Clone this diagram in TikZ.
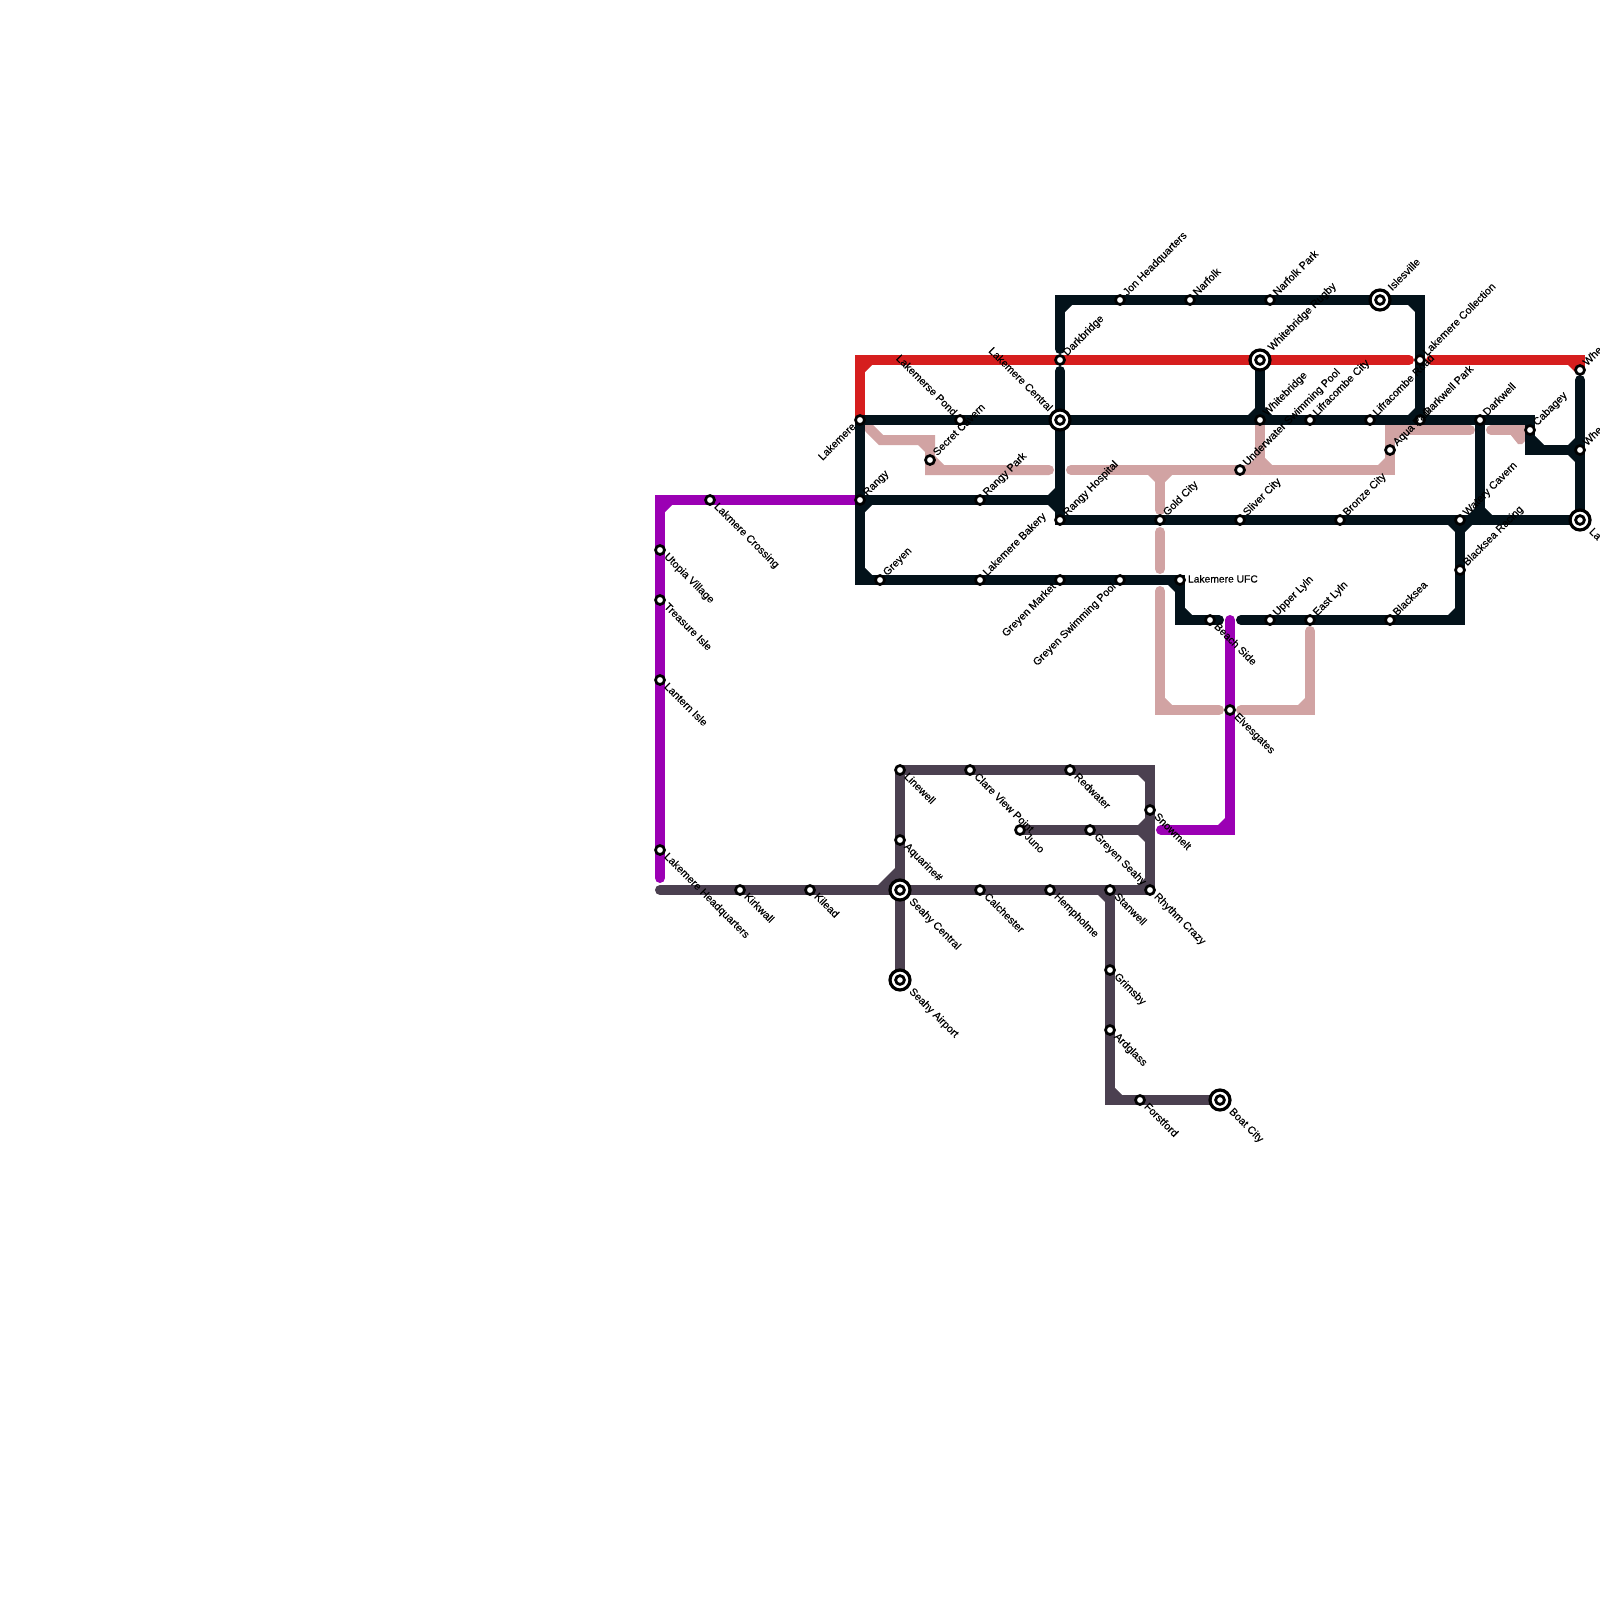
\documentclass[tikz,border=0pt]{standalone}
\usepackage{fontspec}
\setmainfont{Liberation Sans}
\newfontfamily\lblfont[FakeBold=0.3]{Liberation Sans}
\pgfdeclarelayer{lines}
\pgfsetlayers{lines,main}
\definecolor{cBlack}{HTML}{03121A}
\definecolor{cRed}{HTML}{D61E1E}
\definecolor{cPurple}{HTML}{9B00B4}
\definecolor{cRose}{HTML}{D1A3A3}
\definecolor{cGrey}{HTML}{4B4050}
\definecolor{cRing}{HTML}{000000}
\tikzset{
  stn/.style={circle,draw=cRing,fill=white,line width=2.7pt,minimum size=9pt,inner sep=0pt,outer sep=0pt},
  hub/.style={circle,draw=cRing,fill=white,line width=3.2pt,minimum size=20pt,inner sep=0pt,outer sep=0pt,
    path picture={\draw[cRing,line width=2.8pt] (path picture bounding box.center) circle (4.4pt);}},
  lbl/.style={font=\lblfont\fontsize{10.7}{11}\selectfont,text=black,inner sep=0pt,outer sep=0pt,text height=7pt,text depth=2pt},
  route/.style={line width=10pt,line cap=round,line join=miter,miter limit=10},
}
% inner-corner chamfer: colour, corner x, y, leg x, leg y
\newcommand{\chf}[5]{\fill[#1] (#2,#3) -- ++(#4,0) -- (#2,#3+#5) -- cycle;}
\newcommand{\lNE}[3][5.5]{\node[lbl,anchor=west,rotate=45] (l#2) at ([shift={(#1,-#1)}]#2.center) {#3};}
\newcommand{\lSE}[3][5.5]{\node[lbl,anchor=west,rotate=-45] (l#2) at ([shift={(#1,#1)}]#2.center) {#3};}
\newcommand{\lSW}[3][5.5]{\node[lbl,anchor=east,rotate=45] (l#2) at ([shift={(-#1,#1)}]#2.center) {#3};}
\newcommand{\lNW}[3][5.5]{\node[lbl,anchor=east,rotate=-45] (l#2) at ([shift={(-#1,-#1)}]#2.center) {#3};}
\begin{document}
\begin{tikzpicture}[x=1pt,y=-1pt]
\useasboundingbox (0,0) rectangle (1600,1600);
% stations
\node[stn] (lakemere) at (860,420) {};
\node[stn] (rangy) at (860,500) {};
\node[stn] (pond) at (960,420) {};
\node[stn] (secret) at (930,460) {};
\node[stn] (rangypark) at (980,500) {};
\node[stn] (greyen) at (880,580) {};
\node[stn] (bakery) at (980,580) {};
\node[stn] (market) at (1060,580) {};
\node[stn] (gspool) at (1120,580) {};
\node[stn] (ufc) at (1180,580) {};
\node[stn] (darkbridge) at (1060,360) {};
\node[hub] (central) at (1060,420) {};
\node[stn] (hospital) at (1060,520) {};
\node[stn] (jon) at (1120,300) {};
\node[stn] (narfolk) at (1190,300) {};
\node[stn] (narfolkpark) at (1270,300) {};
\node[hub] (islesville) at (1380,300) {};
\node[hub] (rugby) at (1260,360) {};
\node[stn] (whitebridge) at (1260,420) {};
\node[stn] (lcity) at (1310,420) {};
\node[stn] (lroad) at (1370,420) {};
\node[stn] (collection) at (1420,360) {};
\node[stn] (dwpark) at (1420,420) {};
\node[stn] (darkwell) at (1480,420) {};
\node[stn] (aqua) at (1390,450) {};
\node[stn] (cabagey) at (1530,430) {};
\node[stn] (wheA) at (1580,370) {};
\node[stn] (wheB) at (1580,450) {};
\node[hub] (lan) at (1580,520) {};
\node[stn] (underwater) at (1240,470) {};
\node[stn] (gold) at (1160,520) {};
\node[stn] (sliver) at (1240,520) {};
\node[stn] (bronze) at (1340,520) {};
\node[stn] (watery) at (1460,520) {};
\node[stn] (racing) at (1460,570) {};
\node[stn] (blacksea) at (1390,620) {};
\node[stn] (eastlyln) at (1310,620) {};
\node[stn] (upperlyln) at (1270,620) {};
\node[stn] (beach) at (1210,620) {};
\node[stn] (elves) at (1230,710) {};
\node[stn] (crossing) at (710,500) {};
\node[stn] (utopia) at (660,550) {};
\node[stn] (treasure) at (660,600) {};
\node[stn] (lantern) at (660,680) {};
\node[stn] (hq) at (660,850) {};
\node[stn] (kirkwall) at (740,890) {};
\node[stn] (kilead) at (810,890) {};
\node[hub] (seahyc) at (900,890) {};
\node[hub] (seahya) at (900,980) {};
\node[stn] (linewell) at (900,770) {};
\node[stn] (aquarine) at (900,840) {};
\node[stn] (clare) at (970,770) {};
\node[stn] (redwater) at (1070,770) {};
\node[stn] (snowmelt) at (1150,810) {};
\node[stn] (juno) at (1020,830) {};
\node[stn] (gseahy) at (1090,830) {};
\node[stn] (calchester) at (980,890) {};
\node[stn] (hempholme) at (1050,890) {};
\node[stn] (stanwell) at (1110,890) {};
\node[stn] (rhythm) at (1150,890) {};
\node[stn] (grimsby) at (1110,970) {};
\node[stn] (ardglass) at (1110,1030) {};
\node[stn] (forstford) at (1140,1100) {};
\node[hub] (boat) at (1220,1100) {};
% labels
\lSW{lakemere}{Lakemere}
\lNE{rangy}{Rangy}
\lNW{pond}{Lakemerse Pond}
\lNE{secret}{Secret Cavern}
\lNE{rangypark}{Rangy Park}
\lNE{greyen}{Greyen}
\lNE{bakery}{Lakemere Bakery}
\lSW{market}{Greyen Market}
\lSW{gspool}{Greyen Swimming Pool}
\node[lbl,anchor=west,font=\lblfont\fontsize{10.3}{11}\selectfont] (lufc) at ([shift={(8,0)}]ufc.center) {Lakemere UFC};
\lNE{darkbridge}{Darkbridge}
\lNW[10]{central}{Lakemere Central}
\lNE{hospital}{Rangy Hospital}
\lNE{jon}{Jon Headquarters}
\lNE{narfolk}{Narfolk}
\lNE{narfolkpark}{Narfolk Park}
\lNE[10.5]{islesville}{Islesville}
\lNE[10.5]{rugby}{Whitebridge Rugby}
\lNE{whitebridge}{Whitebridge}
\lNE{lcity}{Lifracombe City}
\lNE{lroad}{Lifracombe Road}
\lNE{collection}{Lakemere Collection}
\lNE{dwpark}{Darkwell Park}
\lNE{darkwell}{Darkwell}
\lNE{aqua}{Aqua Park}
\lNE{cabagey}{Cabagey}
\lNE{wheA}{Whe}
\lNE{wheB}{Whe}
\lSE[10.5]{lan}{La}
\lNE{underwater}{Underwater Swimming Pool}
\lNE{gold}{Gold City}
\lNE{sliver}{Sliver City}
\lNE{bronze}{Bronze City}
\lNE{watery}{Watery Cavern}
\lNE{racing}{Blacksea Racing}
\lNE{blacksea}{Blacksea}
\lNE{eastlyln}{East Lyln}
\lNE{upperlyln}{Upper Lyln}
\lSE{beach}{Beach Side}
\lSE{elves}{Elvesgates}
\lSE{crossing}{Lakmere Crossing}
\lSE{utopia}{Utopia Village}
\lSE{treasure}{Treasure Isle}
\lSE{lantern}{Lantern Isle}
\lSE{hq}{Lakemere Headquarters}
\lSE{kirkwall}{Kirkwall}
\lSE{kilead}{Kilead}
\lSE[10.5]{seahyc}{Seahy Central}
\lSE[10.5]{seahya}{Seahy Airport}
\lSE{linewell}{Linewell}
\lSE{aquarine}{Aquarine\#}
\lSE{clare}{Clare View Point}
\lSE{redwater}{Redwater}
\lSE{snowmelt}{Snowmelt}
\lSE{juno}{Juno}
\lSE{gseahy}{Greyen Seahy}
\lSE{calchester}{Calchester}
\lSE{hempholme}{Hempholme}
\lSE{stanwell}{Stanwell}
\lSE{rhythm}{Rhythm Crazy}
\lSE{grimsby}{Grimsby}
\lSE{ardglass}{Ardglass}
\lSE{forstford}{Forstford}
\lSE[10.5]{boat}{Boat City}
% corner and end coordinates
\coordinate (rA) at (860,360);
\coordinate (rB) at (1409,360);
\coordinate (rC) at (1431,360);
\coordinate (rD) at (1580,360);
\coordinate (pA) at (660,500);
\coordinate (pB) at (660,878);
\coordinate (pC) at (1230,620);
\coordinate (pD) at (1230,830);
\coordinate (pE) at (1161,830);
\coordinate (kA) at (1060,349);
\coordinate (kB) at (1060,300);
\coordinate (kC) at (1420,300);
\coordinate (kD) at (1060,371);
\coordinate (kE) at (1530,420);
\coordinate (kF) at (1530,450);
\coordinate (kG) at (1580,380);
\coordinate (kH) at (1060,500);
\coordinate (kI) at (860,580);
\coordinate (kJ) at (1180,620);
\coordinate (kK) at (1219,620);
\coordinate (kL) at (1241,620);
\coordinate (kM) at (1460,620);
\coordinate (kN) at (1480,520);
\coordinate (sA) at (869,428);
\coordinate (sB) at (881,440);
\coordinate (sC) at (930,440);
\coordinate (sD) at (930,470);
\coordinate (sE) at (1049,470);
\coordinate (sF) at (1071,470);
\coordinate (sG) at (1390,470);
\coordinate (sH) at (1390,430);
\coordinate (sI) at (1470,430);
\coordinate (sJ) at (1491,430);
\coordinate (sK) at (1160,470);
\coordinate (sL) at (1160,510);
\coordinate (sM) at (1160,532);
\coordinate (sN) at (1160,569);
\coordinate (sO) at (1160,591);
\coordinate (sP) at (1160,710);
\coordinate (sQ) at (1219,710);
\coordinate (sR) at (1241,710);
\coordinate (sS) at (1310,710);
\coordinate (sT) at (1310,631);
\coordinate (sU) at (1260,425);
\coordinate (sV) at (1260,470);
\coordinate (gA) at (660,890);
\coordinate (gB) at (1150,770);
\coordinate (gC) at (1150,830);
\coordinate (gD) at (1150,890);
\coordinate (gE) at (1110,1100);
\begin{pgfonlayer}{lines}
\fill[white] (0,0) rectangle (1600,1600);
% rose
\begin{scope}[route,draw=cRose]
\draw (sA) -- (sB) -- (sC) -- (sD) -- (sE);
\draw (sF) -- (underwater.center) -- (sV) -- (sG) -- (sH) -- (sI);
\draw (sJ) -- (cabagey.center);
\draw (sK) -- (sL);
\draw (sM) -- (sN);
\draw (sO) -- (sP) -- (sQ);
\draw (sR) -- (sS) -- (sT);
\draw (sU) -- (sV);
\end{scope}
\fill[cRose] (1510,434) -- (1518,444) -- (1522,444) -- (1532,434) -- cycle;
\chf{cRose}{925}{445}{-7}{7}
\chf{cRose}{935}{465}{9}{-9}
\fill[cRose] (1155,475) -- (1148,475) -- (1155,482) -- cycle;
\fill[cRose] (1165,475) -- (1172,475) -- (1165,482) -- cycle;
\chf{cRose}{1255}{465}{-7}{-7}
\chf{cRose}{1265}{465}{7}{-7}
\chf{cRose}{1385}{465}{-7}{-7}
\chf{cRose}{1395}{435}{7}{7}
\chf{cRose}{1165}{705}{7}{-7}
\chf{cRose}{1305}{705}{-7}{-7}
% red
\begin{scope}[route,draw=cRed]
\draw (lakemere.center) -- (rA) -- (darkbridge.center) -- (rugby.center) -- (rB);
\draw (rC) -- (rD) -- (wheA.center);
\end{scope}
\chf{cRed}{865}{365}{7}{7}
\chf{cRed}{1575}{365}{-7}{7}
% purple
\begin{scope}[route,draw=cPurple]
\draw (rangy.center) -- (crossing.center) -- (pA) -- (utopia.center) -- (treasure.center) -- (lantern.center) -- (hq.center) -- (pB);
\draw (pC) -- (elves.center) -- (pD) -- (pE);
\end{scope}
\chf{cPurple}{665}{505}{7}{7}
\chf{cPurple}{1225}{825}{-7}{-7}
% grey
\begin{scope}[route,draw=cGrey]
\draw (gA) -- (kirkwall.center) -- (kilead.center) -- (seahyc.center) -- (calchester.center) -- (hempholme.center) -- (stanwell.center) -- (rhythm.center);
\draw (linewell.center) -- (aquarine.center) -- (seahyc.center) -- (seahya.center);
\draw (linewell.center) -- (clare.center) -- (redwater.center) -- (gB) -- (snowmelt.center) -- (gC) -- (gD);
\draw (juno.center) -- (gseahy.center) -- (gC);
\draw (stanwell.center) -- (grimsby.center) -- (ardglass.center) -- (gE) -- (forstford.center) -- (boat.center);
\end{scope}
\chf{cGrey}{895}{885}{-17}{-17}
\chf{cGrey}{1145}{775}{-7}{7}
\chf{cGrey}{1145}{825}{-7}{-7}
\chf{cGrey}{1145}{835}{-7}{7}
\chf{cGrey}{1145}{885}{-7}{-7}
\chf{cGrey}{1105}{895}{-7}{7}
\chf{cGrey}{1115}{1095}{7}{-7}
% black
\begin{scope}[route,draw=cBlack]
\draw (kA) -- (kB) -- (jon.center) -- (narfolk.center) -- (narfolkpark.center) -- (islesville.center) -- (kC) -- (collection.center) -- (dwpark.center);
\draw (lakemere.center) -- (pond.center) -- (central.center) -- (whitebridge.center) -- (lcity.center) -- (lroad.center) -- (dwpark.center) -- (darkwell.center) -- (kE) -- (cabagey.center) -- (kF) -- (wheB.center);
\draw (lakemere.center) -- (rangy.center) -- (kI) -- (greyen.center) -- (bakery.center) -- (market.center) -- (gspool.center) -- (ufc.center) -- (kJ) -- (beach.center) -- (kK);
\draw (rangy.center) -- (rangypark.center) -- (kH);
\draw (kD) -- (central.center) -- (kH) -- (hospital.center) -- (gold.center) -- (sliver.center) -- (bronze.center) -- (watery.center) -- (kN) -- (lan.center);
\draw (kG) -- (wheB.center) -- (lan.center);
\draw (rugby.center) -- (whitebridge.center);
\draw (darkwell.center) -- (kN);
\draw (kL) -- (upperlyln.center) -- (eastlyln.center) -- (blacksea.center) -- (kM) -- (racing.center) -- (watery.center);
\end{scope}
\chf{cBlack}{1065}{305}{7}{7}
\chf{cBlack}{1415}{305}{-7}{7}
\chf{cBlack}{1415}{415}{-7}{-7}
\chf{cBlack}{865}{505}{7}{7}
\chf{cBlack}{865}{575}{7}{-7}
\chf{cBlack}{1175}{585}{-7}{7}
\chf{cBlack}{1185}{615}{7}{-7}
\chf{cBlack}{1455}{615}{-7}{-7}
\chf{cBlack}{1055}{495}{-7}{-7}
\chf{cBlack}{1055}{505}{-7}{7}
\chf{cBlack}{1455}{525}{-7}{7}
\chf{cBlack}{1465}{525}{7}{7}
\chf{cBlack}{1475}{515}{-7}{-7}
\chf{cBlack}{1485}{515}{7}{-7}
\chf{cBlack}{1575}{445}{-7}{-7}
\chf{cBlack}{1575}{455}{-7}{7}
\chf{cBlack}{1535}{445}{9}{-9}
\chf{cBlack}{1255}{415}{-7}{-7}
\chf{cBlack}{1265}{415}{7}{-7}
\end{pgfonlayer}
\end{tikzpicture}
\end{document}
